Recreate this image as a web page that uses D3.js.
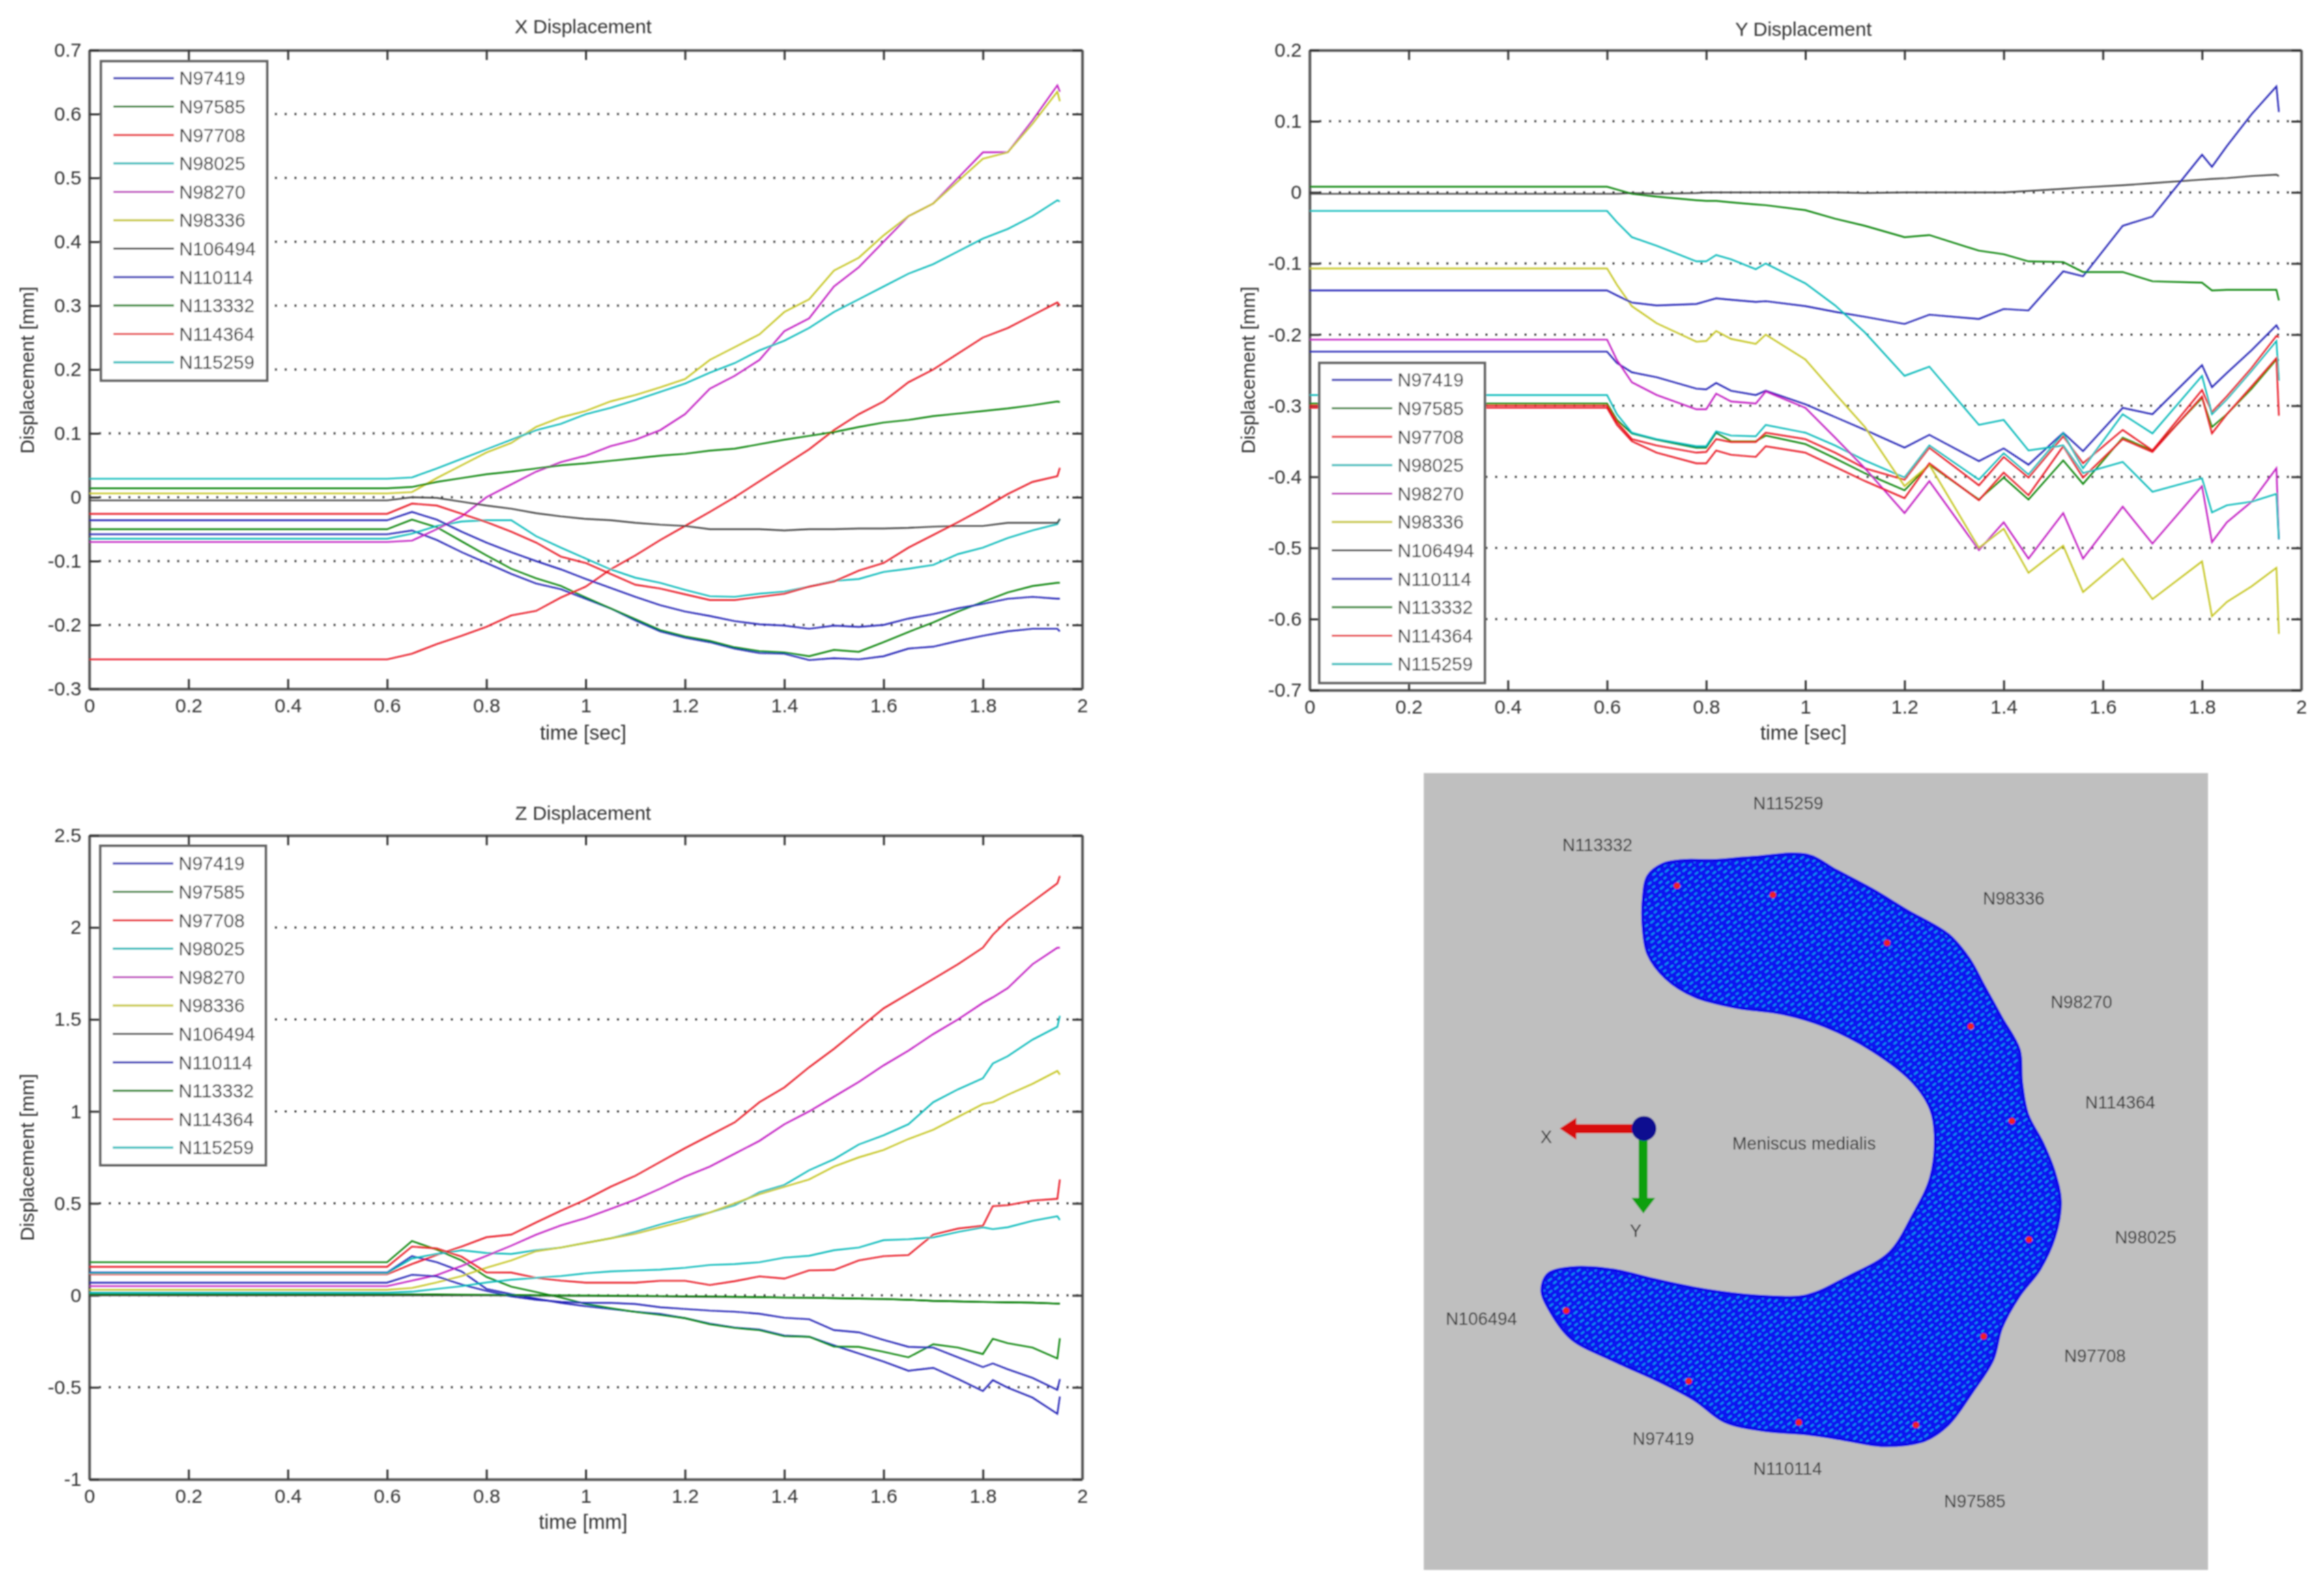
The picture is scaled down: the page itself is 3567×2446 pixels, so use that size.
<!DOCTYPE html>
<html>
<head>
<meta charset="utf-8">
<script src="https://cdn.jsdelivr.net/npm/d3@7"></script>
<style>
  html, body { margin: 0; background: #fff; }
  text { font-family: "Liberation Sans", Arial, sans-serif; fill: #333; }
</style>
</head>
<body>
<svg id="chart"></svg>
<script>
const nodeNames = ["N97419", "N97585", "N97708", "N98025", "N98270", "N98336", "N106494", "N110114", "N113332", "N114364", "N115259"];
const nodeColors = ["#1c1cb4", "#008000", "#e8101c", "#00b8b8", "#c018c0", "#c4c41c", "#404040", "#1c1cb4", "#008000", "#e8101c", "#00b8b8"];

// X displacement
const timeX = [0, 0.6, 0.65, 0.7, 0.75, 0.8, 0.85, 0.9, 0.95, 1, 1.05, 1.1, 1.15, 1.2, 1.25, 1.3, 1.35, 1.4, 1.45, 1.5, 1.55, 1.6, 1.65, 1.7, 1.75, 1.8, 1.85, 1.9, 1.95, 1.955];
const xN97419 = [-0.058, -0.058, -0.052, -0.067, -0.086, -0.103, -0.12, -0.135, -0.144, -0.159, -0.174, -0.193, -0.21, -0.22, -0.227, -0.237, -0.244, -0.245, -0.255, -0.252, -0.254, -0.249, -0.237, -0.234, -0.225, -0.217, -0.21, -0.206, -0.206, -0.21];
const xN97585 = [-0.05, -0.05, -0.035, -0.047, -0.069, -0.091, -0.112, -0.127, -0.139, -0.157, -0.174, -0.191, -0.208, -0.218, -0.225, -0.235, -0.241, -0.243, -0.249, -0.239, -0.242, -0.227, -0.211, -0.196, -0.179, -0.164, -0.149, -0.139, -0.134, -0.134];
const xN97708 = [-0.254, -0.254, -0.245, -0.23, -0.217, -0.203, -0.185, -0.178, -0.157, -0.14, -0.113, -0.091, -0.067, -0.045, -0.023, 0, 0.025, 0.05, 0.075, 0.105, 0.13, 0.15, 0.18, 0.2, 0.225, 0.25, 0.265, 0.285, 0.305, 0.3];
const xN98025 = [-0.065, -0.065, -0.057, -0.045, -0.038, -0.036, -0.036, -0.061, -0.079, -0.096, -0.113, -0.126, -0.134, -0.145, -0.155, -0.156, -0.151, -0.148, -0.14, -0.131, -0.128, -0.117, -0.112, -0.106, -0.089, -0.079, -0.064, -0.052, -0.042, -0.034];
const xN98270 = [-0.07, -0.07, -0.068, -0.05, -0.03, 0, 0.02, 0.04, 0.055, 0.065, 0.08, 0.09, 0.105, 0.13, 0.17, 0.19, 0.215, 0.26, 0.28, 0.33, 0.36, 0.4, 0.44, 0.46, 0.5, 0.54, 0.54, 0.59, 0.645, 0.635];
const xN98336 = [0.006, 0.006, 0.008, 0.03, 0.05, 0.07, 0.085, 0.11, 0.125, 0.135, 0.15, 0.16, 0.172, 0.185, 0.215, 0.235, 0.255, 0.29, 0.31, 0.355, 0.375, 0.41, 0.44, 0.46, 0.495, 0.53, 0.54, 0.585, 0.635, 0.62];
const xN106494 = [-0.005, -0.005, 0, -0.001, -0.007, -0.013, -0.018, -0.025, -0.03, -0.034, -0.036, -0.04, -0.043, -0.045, -0.05, -0.05, -0.05, -0.052, -0.05, -0.05, -0.049, -0.049, -0.048, -0.046, -0.045, -0.045, -0.04, -0.04, -0.04, -0.034];
const xN110114 = [-0.036, -0.036, -0.023, -0.035, -0.054, -0.071, -0.086, -0.1, -0.113, -0.128, -0.142, -0.156, -0.169, -0.179, -0.186, -0.194, -0.199, -0.201, -0.206, -0.201, -0.203, -0.2, -0.19, -0.183, -0.174, -0.167, -0.159, -0.156, -0.159, -0.159];
const xN113332 = [0.014, 0.014, 0.016, 0.024, 0.03, 0.036, 0.04, 0.045, 0.05, 0.053, 0.057, 0.061, 0.065, 0.068, 0.073, 0.076, 0.083, 0.09, 0.096, 0.102, 0.11, 0.117, 0.121, 0.127, 0.131, 0.135, 0.139, 0.144, 0.15, 0.149];
const xN114364 = [-0.026, -0.026, -0.01, -0.013, -0.026, -0.039, -0.054, -0.071, -0.093, -0.103, -0.12, -0.137, -0.143, -0.152, -0.161, -0.161, -0.156, -0.151, -0.14, -0.132, -0.115, -0.103, -0.079, -0.059, -0.039, -0.018, 0.005, 0.024, 0.033, 0.046];
const xN115259 = [0.029, 0.029, 0.031, 0.045, 0.06, 0.075, 0.09, 0.105, 0.115, 0.13, 0.14, 0.152, 0.165, 0.178, 0.195, 0.21, 0.23, 0.245, 0.265, 0.29, 0.31, 0.33, 0.35, 0.365, 0.385, 0.405, 0.42, 0.44, 0.465, 0.463];

// Y displacement
const timeY = [0, 0.6, 0.62, 0.65, 0.7, 0.78, 0.8, 0.82, 0.85, 0.9, 0.92, 1, 1.06, 1.12, 1.2, 1.25, 1.35, 1.4, 1.45, 1.52, 1.56, 1.64, 1.7, 1.8, 1.82, 1.85, 1.9, 1.95, 1.955];
const yN97419 = [-0.224, -0.224, -0.24, -0.253, -0.26, -0.276, -0.277, -0.268, -0.279, -0.285, -0.279, -0.298, -0.316, -0.334, -0.359, -0.341, -0.378, -0.36, -0.383, -0.338, -0.364, -0.303, -0.312, -0.243, -0.274, -0.254, -0.222, -0.187, -0.193];
const yN97585 = [-0.297, -0.297, -0.32, -0.339, -0.348, -0.359, -0.359, -0.338, -0.35, -0.35, -0.342, -0.354, -0.374, -0.395, -0.419, -0.383, -0.432, -0.401, -0.432, -0.377, -0.41, -0.345, -0.363, -0.289, -0.33, -0.312, -0.276, -0.235, -0.236];
const yN97708 = [-0.3, -0.3, -0.323, -0.347, -0.356, -0.366, -0.365, -0.347, -0.351, -0.351, -0.338, -0.347, -0.366, -0.388, -0.404, -0.359, -0.412, -0.372, -0.401, -0.343, -0.381, -0.334, -0.363, -0.278, -0.309, -0.287, -0.247, -0.202, -0.204];
const yN98025 = [-0.285, -0.285, -0.312, -0.338, -0.347, -0.357, -0.357, -0.336, -0.342, -0.343, -0.327, -0.338, -0.356, -0.377, -0.401, -0.356, -0.404, -0.367, -0.397, -0.339, -0.388, -0.312, -0.339, -0.258, -0.312, -0.291, -0.251, -0.209, -0.265];
const yN98270 = [-0.207, -0.207, -0.236, -0.267, -0.285, -0.305, -0.305, -0.283, -0.294, -0.297, -0.28, -0.303, -0.345, -0.388, -0.451, -0.406, -0.503, -0.464, -0.515, -0.451, -0.515, -0.442, -0.494, -0.413, -0.492, -0.464, -0.435, -0.388, -0.488];
const yN98336 = [-0.107, -0.107, -0.13, -0.16, -0.184, -0.21, -0.209, -0.195, -0.206, -0.213, -0.2, -0.235, -0.283, -0.33, -0.413, -0.383, -0.5, -0.473, -0.535, -0.497, -0.562, -0.515, -0.572, -0.519, -0.596, -0.576, -0.554, -0.528, -0.621];
const yN106494 = [-0.002, -0.002, -0.002, -0.001, -0.002, -0.001, 0, 0, 0, 0, 0, 0, 0, -0.001, 0, 0, 0, 0, 0.002, 0.005, 0.007, 0.01, 0.013, 0.018, 0.019, 0.02, 0.023, 0.025, 0.023];
const yN110114 = [-0.138, -0.138, -0.145, -0.155, -0.159, -0.157, -0.153, -0.149, -0.151, -0.154, -0.153, -0.16, -0.168, -0.175, -0.185, -0.172, -0.178, -0.164, -0.166, -0.111, -0.118, -0.047, -0.034, 0.053, 0.036, 0.065, 0.11, 0.149, 0.113];
const yN113332 = [0.008, 0.008, 0.004, -0.002, -0.006, -0.011, -0.012, -0.012, -0.014, -0.017, -0.018, -0.025, -0.037, -0.047, -0.063, -0.06, -0.082, -0.087, -0.097, -0.098, -0.112, -0.112, -0.125, -0.127, -0.138, -0.137, -0.137, -0.137, -0.152];
const yN114364 = [-0.303, -0.303, -0.327, -0.35, -0.366, -0.381, -0.381, -0.363, -0.369, -0.372, -0.357, -0.366, -0.386, -0.406, -0.43, -0.381, -0.433, -0.394, -0.426, -0.357, -0.401, -0.347, -0.365, -0.287, -0.339, -0.312, -0.273, -0.233, -0.314];
const yN115259 = [-0.026, -0.026, -0.042, -0.063, -0.075, -0.097, -0.097, -0.088, -0.094, -0.108, -0.1, -0.128, -0.159, -0.197, -0.258, -0.245, -0.327, -0.32, -0.363, -0.356, -0.395, -0.379, -0.421, -0.402, -0.45, -0.44, -0.435, -0.424, -0.488];

// Z displacement
const timeZ = [0, 0.6, 0.65, 0.7, 0.75, 0.8, 0.85, 0.9, 0.95, 1, 1.05, 1.1, 1.15, 1.2, 1.25, 1.3, 1.35, 1.4, 1.45, 1.5, 1.55, 1.6, 1.65, 1.7, 1.75, 1.8, 1.82, 1.85, 1.9, 1.95, 1.955];
const zN97419 = [0.124, 0.124, 0.213, 0.18, 0.13, 0.035, 0.006, -0.018, -0.041, -0.059, -0.074, -0.089, -0.101, -0.124, -0.154, -0.175, -0.186, -0.219, -0.225, -0.272, -0.316, -0.36, -0.41, -0.394, -0.455, -0.52, -0.461, -0.502, -0.556, -0.644, -0.55];
const zN97585 = [0.18, 0.18, 0.295, 0.248, 0.19, 0.1, 0.047, 0.018, -0.012, -0.047, -0.07, -0.09, -0.106, -0.124, -0.157, -0.177, -0.189, -0.222, -0.225, -0.278, -0.28, -0.307, -0.337, -0.266, -0.284, -0.319, -0.236, -0.26, -0.284, -0.343, -0.233];
const zN97708 = [0.115, 0.115, 0.17, 0.22, 0.265, 0.316, 0.33, 0.396, 0.46, 0.52, 0.59, 0.65, 0.725, 0.8, 0.87, 0.94, 1.05, 1.13, 1.24, 1.34, 1.45, 1.56, 1.64, 1.72, 1.8, 1.89, 1.96, 2.04, 2.14, 2.24, 2.28];
const zN98025 = [0.12, 0.12, 0.2, 0.225, 0.245, 0.23, 0.225, 0.245, 0.26, 0.285, 0.31, 0.345, 0.385, 0.42, 0.45, 0.49, 0.56, 0.6, 0.68, 0.74, 0.82, 0.87, 0.93, 1.05, 1.12, 1.18, 1.26, 1.3, 1.39, 1.46, 1.52];
const zN98270 = [0.05, 0.05, 0.08, 0.11, 0.16, 0.215, 0.27, 0.33, 0.38, 0.42, 0.47, 0.52, 0.58, 0.645, 0.7, 0.77, 0.84, 0.93, 1, 1.08, 1.16, 1.25, 1.33, 1.42, 1.5, 1.59, 1.62, 1.67, 1.8, 1.89, 1.89];
const zN98336 = [0.03, 0.03, 0.04, 0.07, 0.105, 0.15, 0.19, 0.24, 0.26, 0.285, 0.31, 0.335, 0.37, 0.405, 0.45, 0.5, 0.55, 0.59, 0.63, 0.7, 0.75, 0.79, 0.85, 0.9, 0.97, 1.04, 1.05, 1.09, 1.15, 1.22, 1.2];
const zN106494 = [0, 0, 0, 0, 0, 0, -0.001, -0.002, -0.003, -0.003, -0.004, -0.005, -0.006, -0.007, -0.008, -0.009, -0.01, -0.012, -0.013, -0.015, -0.018, -0.02, -0.024, -0.03, -0.033, -0.036, -0.037, -0.038, -0.04, -0.045, -0.045];
const zN110114 = [0.069, 0.069, 0.112, 0.103, 0.059, 0.024, -0.006, -0.024, -0.035, -0.041, -0.041, -0.047, -0.065, -0.074, -0.083, -0.089, -0.1, -0.122, -0.13, -0.189, -0.201, -0.242, -0.28, -0.284, -0.337, -0.39, -0.37, -0.402, -0.449, -0.514, -0.455];
const zN113332 = [0.006, 0.006, 0.006, 0.005, 0.004, 0.003, 0.002, 0.001, 0, -0.001, -0.002, -0.003, -0.004, -0.005, -0.006, -0.008, -0.01, -0.012, -0.013, -0.015, -0.018, -0.02, -0.024, -0.03, -0.033, -0.036, -0.037, -0.038, -0.04, -0.045, -0.045];
const zN114364 = [0.155, 0.155, 0.265, 0.255, 0.21, 0.125, 0.124, 0.095, 0.08, 0.069, 0.069, 0.069, 0.079, 0.079, 0.056, 0.077, 0.103, 0.091, 0.136, 0.138, 0.19, 0.213, 0.219, 0.33, 0.363, 0.378, 0.485, 0.49, 0.515, 0.525, 0.63];
const zN115259 = [0.015, 0.015, 0.02, 0.035, 0.05, 0.07, 0.085, 0.095, 0.105, 0.12, 0.13, 0.135, 0.14, 0.15, 0.165, 0.17, 0.18, 0.205, 0.215, 0.245, 0.26, 0.3, 0.305, 0.315, 0.345, 0.37, 0.36, 0.37, 0.405, 0.43, 0.41];

const xTicks = [0, 0.2, 0.4, 0.6, 0.8, 1, 1.2, 1.4, 1.6, 1.8, 2];
const yTicksX = [-0.3, -0.2, -0.1, 0, 0.1, 0.2, 0.3, 0.4, 0.5, 0.6, 0.7];
const yTicksY = [-0.7, -0.6, -0.5, -0.4, -0.3, -0.2, -0.1, 0, 0.1, 0.2];
const yTicksZ = [-1, -0.5, 0, 0.5, 1, 1.5, 2, 2.5];

// mesh picture, in its own image units
const meshOutline = [[412,270],[420,225],[445,203],[480,196],[530,196],[600,190],[690,186],[740,215],[800,250],[860,290],[930,335],[965,380],[990,430],[1020,490],[1050,550],[1054,610],[1064,670],[1090,725],[1110,780],[1120,835],[1110,900],[1085,960],[1050,1010],[1020,1070],[1005,1130],[970,1190],[930,1250],[890,1280],[820,1290],[750,1278],[690,1268],[620,1262],[550,1245],[500,1205],[440,1170],[360,1130],[290,1090],[255,1040],[240,1000],[250,970],[290,958],[360,962],[430,980],[520,1000],[620,1012],[690,1010],[760,975],[830,930],[870,860],[900,790],[908,710],[900,660],[870,610],[800,550],[720,505],[650,482],[570,470],[500,450],[450,415],[420,370],[412,320]];
const meshPoints = [[469,243],[632,260],[826,350],[968,506],[1038,683],[1067,905],[990,1086],[875,1252],[676,1247],[489,1170],[281,1038]];
const meshLabels = [["N115259",658,88],["N113332",334,166],["N98336",1041,266],["N98270",1156,460],["N114364",1222,648],["N98025",1265,900],["N97708",1179,1122],["N97585",975,1394],["N110114",657,1333],["N97419",446,1277],["N106494",137,1053],["Meniscus medialis",685,724],["X",247,712],["Y",399,888]];

const width = 3567;
const height = 2446;
const fontSize = 30;
const legendFontSize = 29;
const meshFontSize = 27;

const svg = d3.select("#chart").attr("width", width).attr("height", height);
const defs = svg.append("defs");
defs.append("filter").attr("id", "soft")
  .attr("x", "-2%").attr("y", "-2%").attr("width", "104%").attr("height", "104%")
  .append("feGaussianBlur").attr("stdDeviation", 1.1);

const meshPattern = defs.append("pattern").attr("id", "mesh")
  .attr("width", 22).attr("height", 16).attr("patternUnits", "userSpaceOnUse")
  .attr("patternTransform", "rotate(-38)");
meshPattern.append("rect").attr("width", 22).attr("height", 16).attr("fill", "#0814f0");
meshPattern.append("path").attr("d", "M2 4h7M14 3h6M6 12h6M16 11h5")
  .attr("stroke", "#10a8ec").attr("stroke-width", 2.2);

const root = svg.append("g").attr("filter", "url(#soft)");

function drawPanel(panel) {
  const x = d3.scaleLinear().domain([0, 2]).range([panel.left, panel.right]);
  const y = d3.scaleLinear().domain(d3.extent(panel.yTicks)).range([panel.bottom, panel.top]);
  const g = root.append("g");

  // dotted grid, horizontal only
  g.append("g").selectAll("line")
    .data(panel.yTicks.slice(1, -1))
    .join("line")
    .attr("x1", panel.left).attr("x2", panel.right)
    .attr("y1", (d) => y(d)).attr("y2", (d) => y(d))
    .attr("stroke", "#333").attr("stroke-width", 3).attr("stroke-dasharray", "3 12");

  const axes = [
    [d3.axisBottom(x).tickValues(xTicks).tickFormat((d) => String(d)).tickPadding(15), `translate(0,${panel.bottom})`],
    [d3.axisTop(x).tickValues(xTicks).tickFormat(""), `translate(0,${panel.top})`],
    [d3.axisLeft(y).tickValues(panel.yTicks).tickFormat((d) => String(d)).tickPadding(12), `translate(${panel.left},0)`],
    [d3.axisRight(y).tickValues(panel.yTicks).tickFormat(""), `translate(${panel.right},0)`],
  ];
  axes.forEach(([axis, transform]) => {
    const a = g.append("g").attr("transform", transform)
      .call(axis.tickSizeInner(-15).tickSizeOuter(0));
    a.select(".domain").attr("stroke", "#555").attr("stroke-width", 4);
    a.selectAll(".tick line").attr("stroke", "#333").attr("stroke-width", 3);
    a.selectAll("text").attr("font-size", fontSize).attr("font-family", null);
  });

  const line = d3.line().x((d) => x(d[0])).y((d) => y(d[1]));
  g.append("g").selectAll("path")
    .data(panel.series)
    .join("path")
    .attr("d", (d) => line(d.map((v, i) => [panel.time[i], v])))
    .attr("fill", "none")
    .attr("stroke", (d, i) => nodeColors[i])
    .attr("stroke-width", 2.4);

  // legend
  const legend = g.append("g");
  legend.append("rect")
    .attr("x", panel.legend.left).attr("y", panel.legend.top)
    .attr("width", panel.legend.width).attr("height", panel.legend.height)
    .attr("fill", "#fff").attr("stroke", "#666").attr("stroke-width", 4);
  const rows = legend.selectAll("g").data(nodeNames).join("g")
    .attr("transform", (d, i) => `translate(${panel.legend.left},${panel.legend.first + i * 43.6})`);
  rows.append("line").attr("x1", 19).attr("x2", 112)
    .attr("stroke", (d, i) => nodeColors[i]).attr("stroke-width", 3);
  rows.append("text").attr("x", 120).attr("dy", "0.36em")
    .attr("font-size", legendFontSize).text((d) => d);

  g.append("text").attr("x", panel.titleX).attr("y", panel.titleY)
    .attr("text-anchor", "middle").attr("font-size", fontSize).text(panel.title);
  g.append("text").attr("x", panel.titleX).attr("y", panel.xLabelY)
    .attr("text-anchor", "middle").attr("font-size", 31).text(panel.xLabel);
  g.append("text")
    .attr("transform", `translate(${panel.yLabelX},${panel.yLabelY}) rotate(-90)`)
    .attr("text-anchor", "middle").attr("font-size", fontSize).text("Displacement [mm]");
}

drawPanel({
  title: "X Displacement", xLabel: "time [sec]", time: timeX, yTicks: yTicksX,
  series: [xN97419, xN97585, xN97708, xN98025, xN98270, xN98336, xN106494, xN110114, xN113332, xN114364, xN115259],
  left: 137, right: 1661, top: 77, bottom: 1057,
  titleX: 895, titleY: 51, xLabelY: 1135, yLabelX: 52, yLabelY: 568,
  legend: { left: 155, top: 94, width: 255, height: 490, first: 120 },
});
drawPanel({
  title: "Y Displacement", xLabel: "time [sec]", time: timeY, yTicks: yTicksY,
  series: [yN97419, yN97585, yN97708, yN98025, yN98270, yN98336, yN106494, yN110114, yN113332, yN114364, yN115259],
  left: 2010, right: 3532, top: 77, bottom: 1059,
  titleX: 2768, titleY: 55, xLabelY: 1135, yLabelX: 1926, yLabelY: 568,
  legend: { left: 2025, top: 557, width: 254, height: 491, first: 583 },
});
drawPanel({
  title: "Z Displacement", xLabel: "time [mm]", time: timeZ, yTicks: yTicksZ,
  series: [zN97419, zN97585, zN97708, zN98025, zN98270, zN98336, zN106494, zN110114, zN113332, zN114364, zN115259],
  left: 137, right: 1661, top: 1282, bottom: 2270,
  titleX: 895, titleY: 1258, xLabelY: 2346, yLabelX: 52, yLabelY: 1776,
  legend: { left: 154, top: 1298, width: 254, height: 490, first: 1325 },
});

// mesh picture
const mx = d3.scaleLinear().domain([0, 1568]).range([2150, 3567]);
const my = d3.scaleLinear().domain([0, 1568]).range([1160, 2446]);
const mesh = root.append("g");
mesh.append("rect")
  .attr("x", mx(39)).attr("y", my(32))
  .attr("width", mx(1371) - mx(39)).attr("height", my(1523) - my(32))
  .attr("fill", "#bfbfbf");
mesh.append("path")
  .attr("d", d3.line().x((d) => mx(d[0])).y((d) => my(d[1])).curve(d3.curveCatmullRomClosed)(meshOutline))
  .attr("fill", "url(#mesh)").attr("stroke", "#0a10e8").attr("stroke-width", 5);
mesh.selectAll("circle.node").data(meshPoints).join("circle")
  .attr("class", "node")
  .attr("cx", (d) => mx(d[0])).attr("cy", (d) => my(d[1])).attr("r", 5)
  .attr("fill", "#ee2222");

// coordinate triad
const arrowX = d3.path();
arrowX.moveTo(mx(410), my(689)); arrowX.lineTo(mx(298), my(689)); arrowX.lineTo(mx(298), my(677));
arrowX.lineTo(mx(270), my(697)); arrowX.lineTo(mx(298), my(718)); arrowX.lineTo(mx(298), my(706));
arrowX.lineTo(mx(410), my(706)); arrowX.closePath();
mesh.append("path").attr("d", arrowX.toString()).attr("fill", "#d80808");
const arrowY = d3.path();
arrowY.moveTo(mx(404), my(700)); arrowY.lineTo(mx(404), my(827)); arrowY.lineTo(mx(392), my(827));
arrowY.lineTo(mx(412), my(856)); arrowY.lineTo(mx(432), my(827)); arrowY.lineTo(mx(419), my(827));
arrowY.lineTo(mx(419), my(700)); arrowY.closePath();
mesh.append("path").attr("d", arrowY.toString()).attr("fill", "#0ca00c");
mesh.append("circle").attr("cx", mx(413)).attr("cy", my(697)).attr("r", 19).attr("fill", "#0c0c90");

mesh.selectAll("text").data(meshLabels).join("text")
  .attr("x", (d) => mx(d[1])).attr("y", (d) => my(d[2]))
  .attr("text-anchor", "middle").attr("dy", "0.36em")
  .attr("font-size", meshFontSize).text((d) => d[0]);
</script>
</body>
</html>
